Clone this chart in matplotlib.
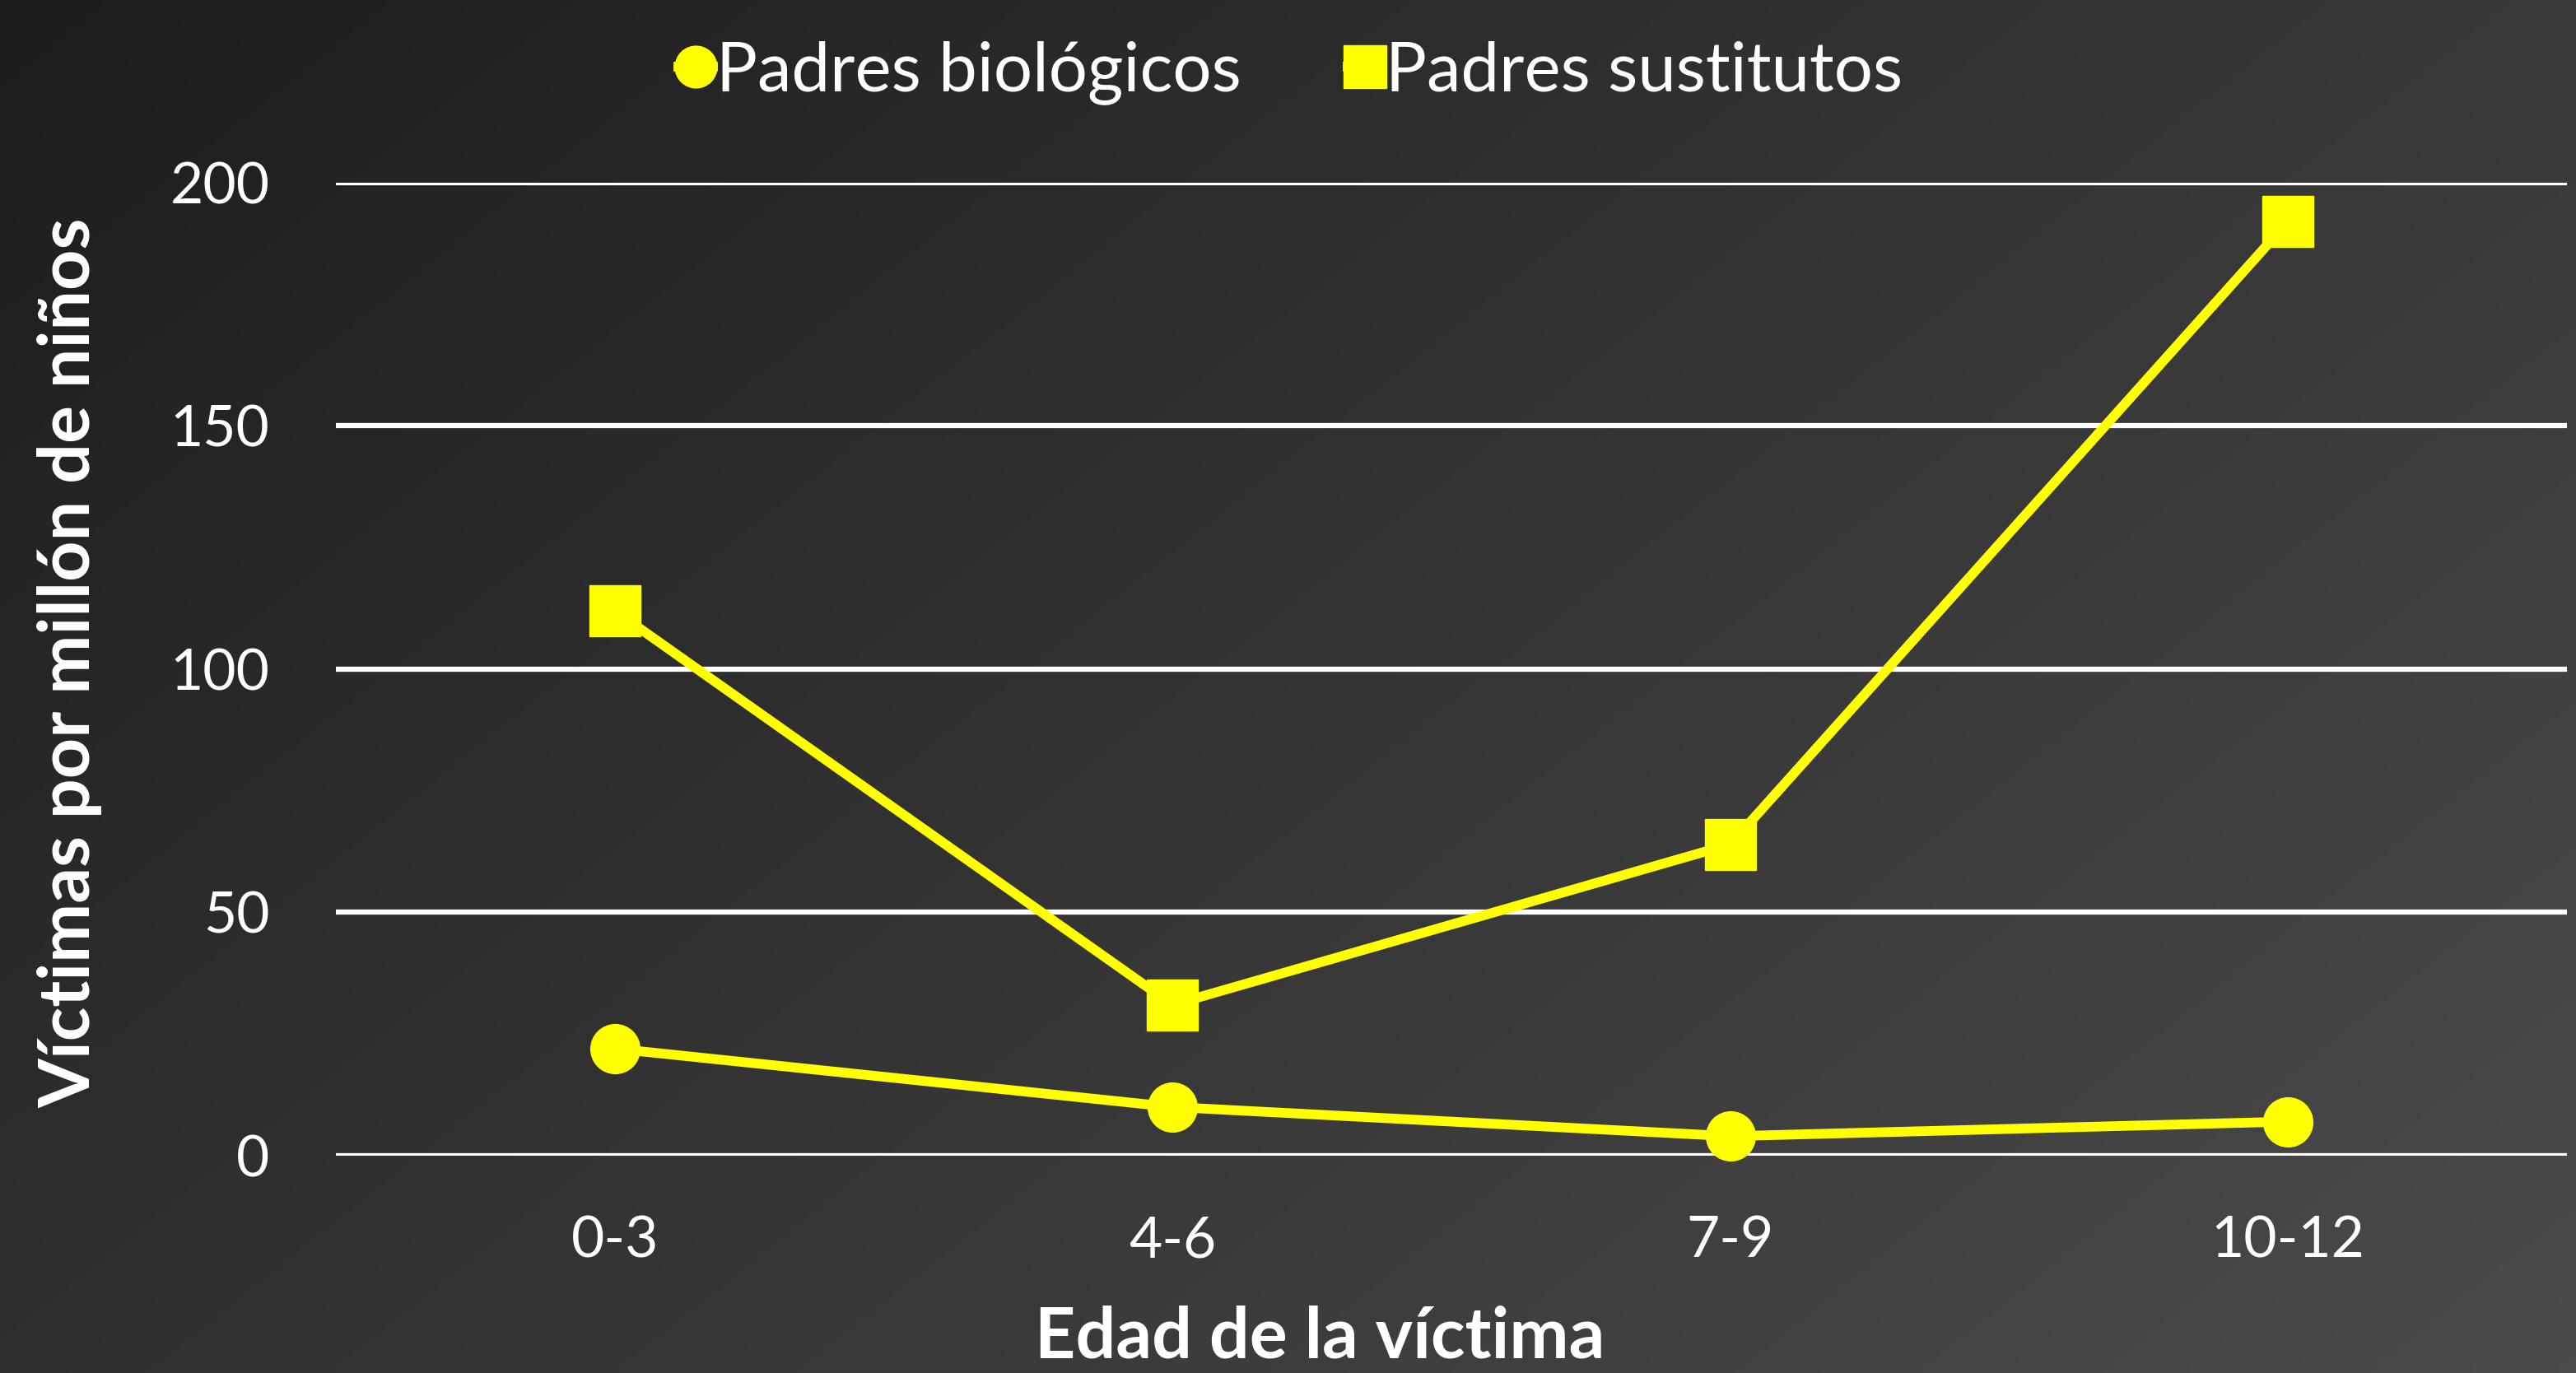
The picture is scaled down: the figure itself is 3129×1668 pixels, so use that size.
import numpy as np
import matplotlib.pyplot as plt
from matplotlib.colors import LinearSegmentedColormap

# data
edades = ["0-3", "4-6", "7-9", "10-12"]
biologicos = [22, 10, 4, 7]
sustitutos = [112, 31, 64, 192]
yticks = [0, 50, 100, 150, 200]

plt.rcParams['font.family'] = ['Lato', 'DejaVu Sans']
amarillo = '#ffff00'

fig = plt.figure(figsize=(31.29, 16.68), dpi=100)

# dark diagonal gradient background
bg = fig.add_axes([0, 0, 1, 1], zorder=-10)
gx, gy = np.meshgrid(np.linspace(0, 1, 300), np.linspace(0, 1, 300))
grad = (gx * 0.6 + gy * 0.4)
cmap = LinearSegmentedColormap.from_list('bg', ['#1d1d1d', '#4b4b4b'])
bg.imshow(grad, cmap=cmap, aspect='auto', extent=[0, 1, 0, 1], origin='upper')
bg.axis('off')

ax = fig.add_axes([0.1304, 0.1583, 0.8661, 0.7086])
ax.set_facecolor('none')
x = np.arange(len(edades))

ax.plot(x, biologicos, color=amarillo, lw=8.5, marker='o', ms=43,
        label='Padres biológicos', clip_on=False, zorder=3)
ax.plot(x, sustitutos, color=amarillo, lw=8.5, marker='s', ms=44,
        label='Padres sustitutos', clip_on=False, zorder=3)

ax.set_xlim(-0.5, len(edades) - 0.5)
ax.set_ylim(0, 200)
ax.set_yticks(yticks)
ax.set_xticks(x)
ax.set_xticklabels(edades)
ax.grid(axis='y', color='white', lw=4.5)
ax.set_axisbelow(True)
for s in ax.spines.values():
    s.set_visible(False)
ax.tick_params(axis='both', length=0, colors='white', labelsize=50)
ax.tick_params(axis='y', pad=58)
ax.tick_params(axis='x', pad=52)

fig.text(0.027, 0.517, 'Víctimas por millón de niños', rotation=90, color='white',
         fontsize=62, fontweight='bold', ha='center', va='center')
fig.text(0.5125, 0.026, 'Edad de la víctima', color='white',
         fontsize=62, fontweight='bold', ha='center', va='center')

leg = fig.legend(loc='center', bbox_to_anchor=(0.501, 0.947), ncol=2, frameon=False,
                 fontsize=60, labelcolor='white', handlelength=0.5, handletextpad=0.05,
                 columnspacing=1.55, markerscale=0.85)

fig.savefig('out.png', dpi=100)
